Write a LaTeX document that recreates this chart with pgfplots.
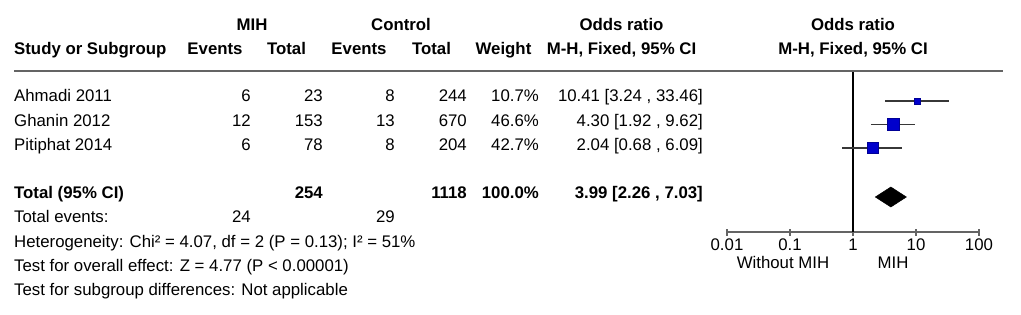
\documentclass[border=0pt]{standalone}
\usepackage{fontspec}
\setmainfont{Liberation Sans}
\usepackage{pgfplots}
\pgfplotsset{compat=1.18}
\newcommand\fs{\fontsize{16.8bp}{20bp}\selectfont}
\definecolor{sqblue}{RGB}{0,0,204}
\definecolor{sqedge}{RGB}{0,0,150}
\definecolor{linegray}{RGB}{100,100,100}
\definecolor{cigray}{RGB}{55,55,55}
\begin{document}
\begin{tikzpicture}[every node/.style={font=\fs, inner sep=0pt}]
\useasboundingbox (0bp,0bp) rectangle (1021bp,-315bp);
% header line
\draw[linegray, line width=1.6bp] (14bp,-71bp) -- (1003bp,-71bp);
% headers
\node[anchor=base, font=\fs\bfseries] at (252bp,-30bp) {MIH};
\node[anchor=base, font=\fs\bfseries] at (401bp,-30bp) {Control};
\node[anchor=base, font=\fs\bfseries] at (621.5bp,-30bp) {Odds ratio};
\node[anchor=base, font=\fs\bfseries] at (853bp,-30bp) {Odds ratio};
\node[anchor=base west, font=\fs\bfseries] at (14bp,-54bp) {Study or Subgroup};
\node[anchor=base, font=\fs\bfseries] at (215bp,-54bp) {Events};
\node[anchor=base, font=\fs\bfseries] at (286.5bp,-54bp) {Total};
\node[anchor=base, font=\fs\bfseries] at (359bp,-54bp) {Events};
\node[anchor=base, font=\fs\bfseries] at (431.5bp,-54bp) {Total};
\node[anchor=base, font=\fs\bfseries] at (503.5bp,-54bp) {Weight};
\node[anchor=base, font=\fs\bfseries] at (621.5bp,-54bp) {M-H, Fixed, 95\% CI};
\node[anchor=base, font=\fs\bfseries] at (853bp,-54bp) {M-H, Fixed, 95\% CI};
% study rows
\foreach \y/\name/\ea/\ta/\eb/\tb/\w/\orr in {
  101.7/Ahmadi 2011/6/23/8/244/10.7\%/{10.41 [3.24 , 33.46]},
  126/Ghanin 2012/12/153/13/670/46.6\%/{4.30 [1.92 , 9.62]},
  150/Pitiphat 2014/6/78/8/204/42.7\%/{2.04 [0.68 , 6.09]}}{
  \node[anchor=base west] at (14bp,-\y bp) {\name};
  \node[anchor=base east] at (251bp,-\y bp) {\ea};
  \node[anchor=base east] at (323bp,-\y bp) {\ta};
  \node[anchor=base east] at (395bp,-\y bp) {\eb};
  \node[anchor=base east] at (467bp,-\y bp) {\tb};
  \node[anchor=base east] at (539bp,-\y bp) {\w};
  \node[anchor=base east] at (703bp,-\y bp) {\orr};
}
% total row
\node[anchor=base west, font=\fs\bfseries] at (14bp,-198bp) {Total (95\% CI)};
\node[anchor=base east, font=\fs\bfseries] at (323bp,-198bp) {254};
\node[anchor=base east, font=\fs\bfseries] at (467bp,-198bp) {1118};
\node[anchor=base east, font=\fs\bfseries] at (539bp,-198bp) {100.0\%};
\node[anchor=base east, font=\fs\bfseries] at (703bp,-198bp) {3.99 [2.26 , 7.03]};
\node[anchor=base west] at (14bp,-222bp) {Total events:};
\node[anchor=base east] at (251bp,-222bp) {24};
\node[anchor=base east] at (395bp,-222bp) {29};
\node[anchor=base west] at (14bp,-247bp) {Heterogeneity: Chi² = 4.07, df = 2 (P = 0.13); I² = 51\%};
\node[anchor=base west] at (14bp,-271bp) {Test for overall effect: Z = 4.77 (P < 0.00001)};
\node[anchor=base west] at (14bp,-295bp) {Test for subgroup differences: Not applicable};
% forest plot
\begin{axis}[
  at={(727bp,-232bp)}, anchor=south west,
  scale only axis, width=252bp, height=160bp,
  xmode=log, log basis x=10, xmin=0.01, xmax=100,
  ymin=-232, ymax=-72,
  axis x line*=bottom, axis y line=none,
  xtick={0.01,0.1,1,10,100},
  xticklabels={0.01,0.1,1,10,100},
  xminorticks=false,
  tick align=center, major tick length=7bp,
  axis line style={linegray, line width=1.3bp},
  tick style={linegray, line width=1.3bp},
  xticklabel style={font=\fs, anchor=base, yshift=-15bp, inner sep=0pt},
  clip=false,
]
\addplot[black, line width=1.2bp] coordinates {(1,-72) (1,-232)};
% CIs
\addplot[cigray, line width=1.3bp] coordinates {(3.24,-101) (33.46,-101)};
\addplot[cigray, line width=1.3bp] coordinates {(1.92,-124.5) (9.62,-124.5)};
\addplot[cigray, line width=1.3bp] coordinates {(0.68,-148) (6.09,-148)};
% squares
\addplot[only marks, mark=square*, mark size=2.9bp, mark options={fill=sqblue, draw=sqedge, line width=0.6bp}] coordinates {(10.41,-101)};
\addplot[only marks, mark=square*, mark size=6bp, mark options={fill=sqblue, draw=sqedge, line width=0.6bp}] coordinates {(4.30,-124.5)};
\addplot[only marks, mark=square*, mark size=5.7bp, mark options={fill=sqblue, draw=sqedge, line width=0.6bp}] coordinates {(2.04,-148)};
% diamond
\addplot[fill=black, draw=black, line width=0.5bp] coordinates {(2.26,-197) (3.99,-187) (7.03,-197) (3.99,-207)} -- cycle;
\end{axis}
\node[anchor=base] at (783bp,-268bp) {Without MIH};
\node[anchor=base] at (893bp,-268bp) {MIH};
\end{tikzpicture}
\end{document}
